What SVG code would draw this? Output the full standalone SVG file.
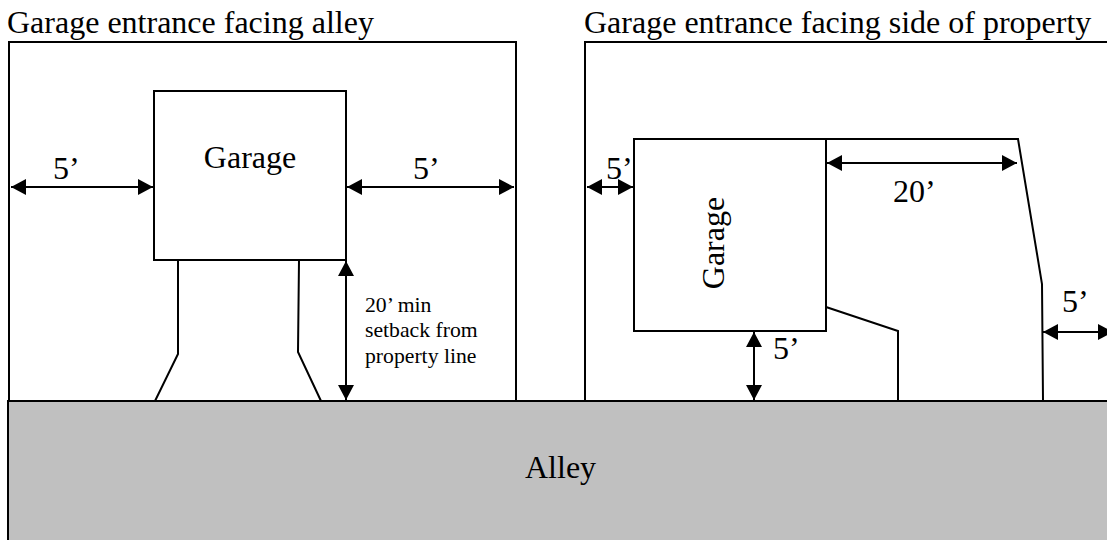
<svg xmlns="http://www.w3.org/2000/svg" width="1107" height="540" viewBox="0 0 1107 540">
<defs><marker id="a" viewBox="0 0 15 16" refX="15" refY="8" markerWidth="15" markerHeight="16" markerUnits="userSpaceOnUse" orient="auto-start-reverse"><path d="M0 0L15 8L0 16z" fill="#000"/></marker></defs>
<style>
text{font-family:"Liberation Serif",serif;fill:#000}
.l{fill:none;stroke:#000;stroke-width:2}
.d{fill:none;stroke:#000;stroke-width:2;marker-start:url(#a);marker-end:url(#a)}
.b{font-size:32px}
.s{font-size:21.700px}
</style>
<rect width="1107" height="540" fill="#fff"/>
<g id="lots">
<path class="l" d="M9 401V42H516V401"/>
<path class="l" d="M585 401V42H1108"/>
</g>
<g id="alley"><rect x="8" y="401" width="1104" height="145" fill="#c0c0c0" stroke="#000" stroke-width="2"/><text x="525" y="478" class="b">Alley</text></g>
<g id="garage1"><rect x="154" y="91" width="192" height="169" fill="#fff" stroke="#000" stroke-width="2"/><text x="250" y="168" class="b" text-anchor="middle">Garage</text></g>
<g id="garage2"><rect x="634" y="139" width="192" height="192" fill="#fff" stroke="#000" stroke-width="2"/><text transform="translate(724 243) rotate(-90)" class="b" text-anchor="middle">Garage</text></g>
<g id="drive1"><path class="l" d="M178 260V354L155 401"/><path class="l" d="M299 260L298 352L321 401"/></g>
<g id="drive2"><path class="l" d="M826 139H1018L1042 284L1043 401"/><path class="l" d="M826 307L898 331V401"/></g>
<g id="connectors">
<path class="d" d="M11 187H153"/><path class="d" d="M347 187H514"/><path class="d" d="M346 261V400"/>
<path class="d" d="M587 187H633"/><path class="d" d="M827 163H1017"/><path class="d" d="M754 332V400"/><path class="d" d="M1043 332H1113"/>
</g>
<g id="labels">
<text x="7" y="33" class="b">Garage entrance facing alley</text>
<text x="584" y="33" class="b">Garage entrance facing side of property</text>
<text x="53" y="179" class="b">5’</text><text x="413" y="179" class="b">5’</text><text x="606" y="179" class="b">5’</text><text x="893" y="202" class="b">20’</text><text x="773" y="359" class="b">5’</text><text x="1062" y="312" class="b">5’</text>
<text x="365" y="312" class="s">20’ min</text><text x="365" y="337" class="s">setback from</text><text x="365" y="363" class="s">property line</text>
</g>
</svg>
